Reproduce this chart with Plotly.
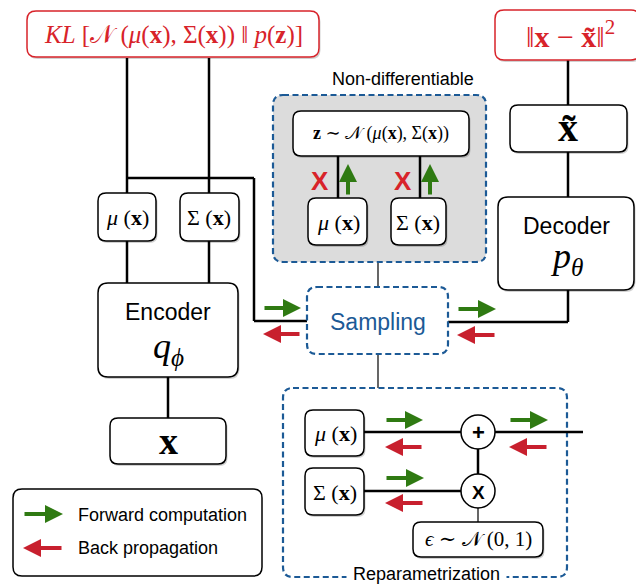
import plotly.graph_objects as go

# ---- text content ----
loss_labels = ["<i>KL</i> [𝒩 (<i>μ</i>(<b>x</b>), Σ(<b>x</b>)) ‖ <i>p</i>(<b>z</b>)]",
               "‖<b>x</b> − <b>x̃</b>‖<sup>2</sup>"]
latent_labels = ["<i>μ</i> (<b>x</b>)", "Σ (<b>x</b>)"]
module_labels = ["Encoder", "Decoder"]
module_params = ["<i>q</i><sub><i>ϕ</i></sub>", "<i>p</i><sub><i>θ</i></sub>"]
io_labels = ["<b>x</b>", "<b>x̃</b>"]
sample_label = "<b>z</b> ∼ 𝒩 (<i>μ</i>(<b>x</b>), Σ(<b>x</b>))"
eps_label = "<i>ϵ</i> ∼ 𝒩 (0, 1)"
ops_labels = ["+", "X"]
group_labels = ["Non-differentiable", "Sampling", "Reparametrization"]
legend_labels = ["Forward computation", "Back propagation"]
blocked_label = "X"

SERIF = "Liberation Serif, DejaVu Serif, serif"
SANS = "Liberation Sans, Arial, sans-serif"
RED = "#d8232a"
GREEN = "#2f7a12"
ARED = "#c8202e"
BLUE = "#1c5a96"
DASH = "6px,3.5px"

shapes = []
annotations = []


def rr(x0, y0, x1, y1, r=8):
    return (f"M {x0+r},{y0} L {x1-r},{y0} Q {x1},{y0} {x1},{y0+r} "
            f"L {x1},{y1-r} Q {x1},{y1} {x1-r},{y1} L {x0+r},{y1} "
            f"Q {x0},{y1} {x0},{y1-r} L {x0},{y0+r} Q {x0},{y0} {x0+r},{y0} Z")


def box(x0, y0, x1, y1, r=8, color="black", width=1.5, fill="white", dash=None, shadow=True):
    if shadow:
        shapes.append(dict(type="path", path=rr(x0 + 1.5, y0 + 2, x1 + 1.5, y1 + 2, r),
                           line=dict(width=0), fillcolor="rgba(0,0,0,0.18)"))
    ln = dict(color=color, width=width)
    if dash:
        ln["dash"] = dash
    shapes.append(dict(type="path", path=rr(x0, y0, x1, y1, r), line=ln, fillcolor=fill))


def seg(pts, width=2.5, color="black"):
    for (xa, ya), (xb, yb) in zip(pts[:-1], pts[1:]):
        shapes.append(dict(type="line", x0=xa, y0=ya, x1=xb, y1=yb,
                           line=dict(color=color, width=width)))


def txt(x, y, s, size, color="black", family=SERIF, xanchor="center", bg=None):
    a = dict(x=x, y=y, text=s, showarrow=False, xanchor=xanchor, yanchor="middle",
             font=dict(size=size, color=color, family=family))
    if bg:
        a["bgcolor"] = bg
    annotations.append(a)


def arrow(x_tail, y_tail, x_head, y_head, color):
    annotations.append(dict(x=x_head, y=y_head, ax=x_tail, ay=y_tail, axref="x", ayref="y",
                            xref="x", yref="y", text="", showarrow=True, arrowhead=2,
                            arrowsize=0.9, arrowwidth=4, arrowcolor=color, standoff=0))


def fwd(x0, x1, y):
    arrow(x0, y, x1, y, GREEN)


def back(x0, x1, y):
    arrow(x1, y, x0, y, ARED)


# ---- connecting lines ----
seg([(127, 58), (127, 193)])
seg([(209, 58), (209, 193)])
seg([(127, 178), (254, 178), (254, 321), (307, 321)])
seg([(127, 241), (127, 283)])
seg([(209, 241), (209, 283)])
seg([(168, 377), (168, 418)])
seg([(448, 322), (568, 322), (568, 290)])
seg([(568, 60), (568, 105)])
seg([(568, 152), (568, 197)])
seg([(378, 262), (378, 287)], width=1.2)
seg([(378, 354), (378, 388)], width=1.2)

# ---- group boxes ----
box(273, 95, 486, 262, r=10, color=BLUE, width=2.2, fill="#dcdcdc", dash=DASH, shadow=False)
box(283, 388, 567, 577, r=10, color=BLUE, width=2.2, fill="white", dash=DASH, shadow=False)

# inside non-differentiable
seg([(338, 156), (338, 198)])
seg([(420, 156), (420, 198)])
box(293, 111, 469, 156)
box(308, 198, 367, 245)
box(391, 198, 446, 245)

# inside reparametrization
seg([(364, 432), (583, 432)])
seg([(364, 491), (478, 491)])
seg([(478, 432), (478, 491)])
seg([(478, 491), (478, 522)], width=1.2)
for cy in (432, 491):
    shapes.append(dict(type="circle", x0=461, x1=495, y0=cy - 17, y1=cy + 17,
                       line=dict(color="black", width=1.5), fillcolor="white"))
box(305, 410, 364, 456)
box(305, 468, 364, 515)
box(413, 522, 543, 557)

# ---- main boxes ----
box(27, 11, 319, 57, r=9, color=RED, width=1.5)
box(495, 10, 640, 60, r=9, color=RED, width=1.5)
box(98, 193, 156, 241)
box(180, 193, 239, 241)
box(98, 283, 238, 377, r=10)
box(110, 418, 226, 464)
box(510, 105, 627, 152)
box(498, 197, 634, 290, r=10)
box(307, 287, 448, 354, r=10, color=BLUE, width=2.2, dash=DASH, shadow=False)
box(13, 489, 262, 576, r=9, shadow=False)

# ---- texts ----
txt(173, 35, loss_labels[0], 25, RED)
txt(570, 34, loss_labels[1], 30, RED)
txt(127, 217, latent_labels[0], 22)
txt(209, 217, latent_labels[1], 22)
txt(168, 312, module_labels[0], 23, family=SANS)
txt(168, 348, module_params[0], 36)
txt(168, 441, io_labels[0], 38)
txt(568, 127, io_labels[1], 40)
txt(566, 226, module_labels[1], 23, family=SANS)
txt(566, 258, module_params[1], 36)
txt(403, 79, group_labels[0], 18, family=SANS)
txt(378, 322, group_labels[1], 23, color=BLUE, family=SANS)
txt(426, 574, " " + group_labels[2] + " ", 18, family=SANS, bg="white")
txt(381, 133, sample_label, 18)
txt(338, 222, latent_labels[0], 22)
txt(418, 222, latent_labels[1], 22)
txt(335, 433, latent_labels[0], 22)
txt(335, 492, latent_labels[1], 22)
txt(478, 539, eps_label, 21)
txt(478, 432, "<b>" + ops_labels[0] + "</b>", 22, family=SANS)
txt(478, 492, "<b>" + ops_labels[1] + "</b>", 19, family=SANS)
txt(320, 181, "<b>" + blocked_label + "</b>", 26, color=RED, family=SANS)
txt(403, 181, "<b>" + blocked_label + "</b>", 26, color=RED, family=SANS)
txt(76, 515, legend_labels[0], 18, family=SANS, xanchor="left")
txt(76, 548, legend_labels[1], 18, family=SANS, xanchor="left")

# ---- arrows ----
arrow(348, 196, 348, 164, GREEN)
arrow(430, 196, 430, 164, GREEN)
fwd(263, 301, 308)
back(263, 301, 334)
fwd(457, 496, 309)
back(457, 496, 335)
fwd(385, 423, 420)
back(385, 423, 447)
fwd(385, 424, 478)
back(385, 424, 503)
fwd(509, 548, 420)
back(509, 548, 447)
fwd(23, 63, 514)
back(23, 63, 548)

fig = go.Figure()
fig.update_layout(
    width=636, height=585, margin=dict(l=0, r=0, t=0, b=0),
    paper_bgcolor="white", plot_bgcolor="white",
    xaxis=dict(range=[0, 636], visible=False, fixedrange=True),
    yaxis=dict(range=[585, 0], visible=False, fixedrange=True),
    shapes=shapes, annotations=annotations, showlegend=False,
)
fig.write_html("out.html", config={"displayModeBar": False},
               post_script="document.body.style.margin='0';document.body.style.overflow='hidden';")
